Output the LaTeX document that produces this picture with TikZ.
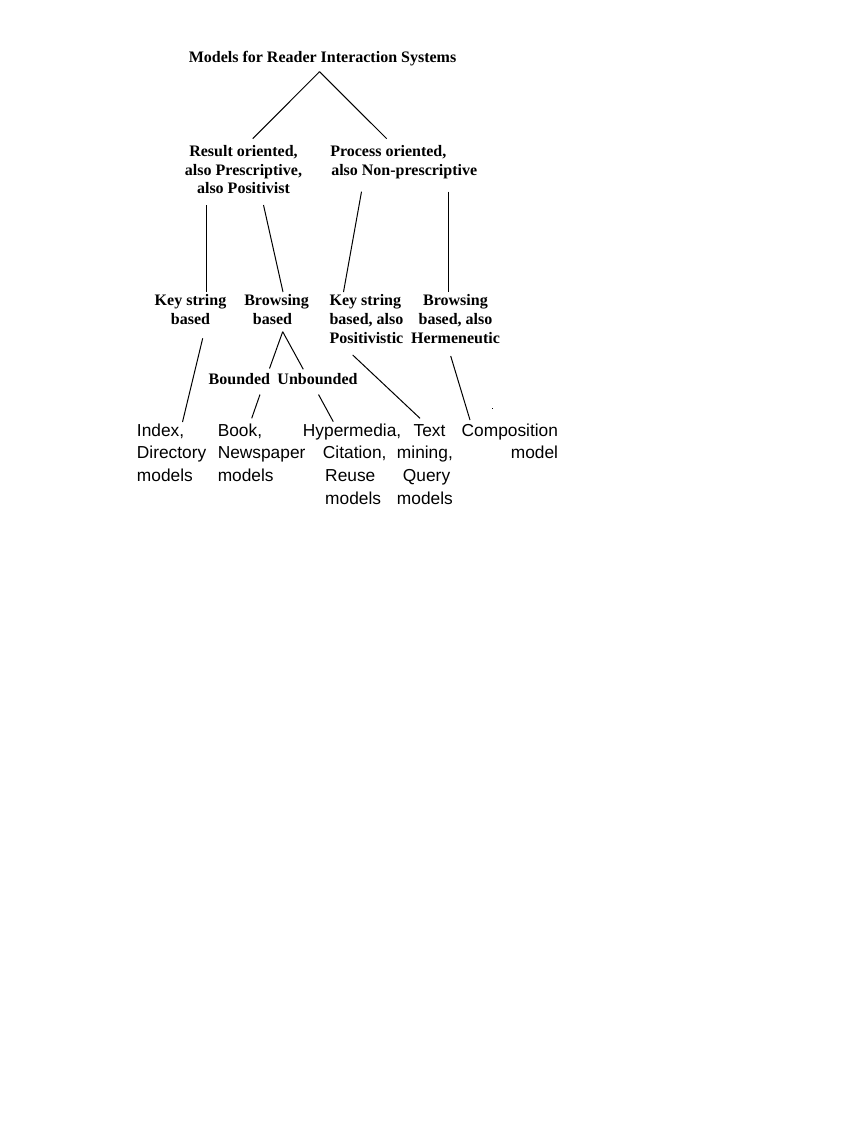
\documentclass[tikz,border=0pt]{standalone}
\usepackage{fontspec}
\setmainfont{Liberation Serif}
\newfontfamily\arialfont{Liberation Sans}
\usetikzlibrary{calc}
\begin{document}
\begin{tikzpicture}[x=0.75pt,y=-0.75pt,
  serif/.style={inner sep=0pt, font=\fontsize{12pt}{14pt}\selectfont\bfseries},
  sans/.style={inner sep=0pt, font=\arialfont\fontsize{13pt}{17pt}\selectfont},
  conn/.style={draw=black, line width=0.75pt}]
\fill[white] (0,0) rectangle (858,1135);
\useasboundingbox (0,0) rectangle (858,1135);
% level 1
\node[serif, anchor=base] (title) at (322.5,62.7) {Models for Reader Interaction Systems};
% level 2
\node[serif, anchor=base] (result) at (243.5,156.5)
  {\begin{tabular}[t]{@{}c@{}}Result oriented,\\ also Prescriptive,\\ also Positivist\end{tabular}};
\node[serif, anchor=base west] (process) at (330,156.5)
  {\begin{tabular}[t]{@{}l@{}}Process oriented,\\ \hspace{0.75pt}also Non-prescriptive\end{tabular}};
% level 3
\node[serif, anchor=base] (ks1) at (190.5,305.7)
  {\begin{tabular}[t]{@{}c@{}}Key string\\ based\end{tabular}};
\node[serif, anchor=base west] (br1) at (244,305.7)
  {\begin{tabular}[t]{@{}l@{}}Browsing\\ \hspace{6.5pt}based\end{tabular}};
\node[serif, anchor=base west] (ks2) at (329.3,305.7)
  {\begin{tabular}[t]{@{}l@{}}Key string\\ based, also\\ Positivistic\end{tabular}};
\node[serif, anchor=base] (br2) at (455.5,305.7)
  {\begin{tabular}[t]{@{}c@{}}Browsing\\ based, also\\ Hermeneutic\end{tabular}};
\node[serif, anchor=base] (bounded) at (239.4,384.5) {Bounded};
\node[serif, anchor=base] (unbounded) at (317.5,384.5) {Unbounded};
% level 4
\node[sans, anchor=base west] (index) at (136.7,436)
  {\begin{tabular}[t]{@{}l@{}}Index,\\ Directory\\ models\end{tabular}};
\node[sans, anchor=base west] (book) at (217.5,436)
  {\begin{tabular}[t]{@{}l@{}}Book,\\ Newspaper\\ models\end{tabular}};
\node[sans, anchor=base west] (hyper) at (302.7,436)
  {\begin{tabular}[t]{@{}l@{}}Hypermedia,\\ \hspace{15pt}Citation,\\ \hspace{16.7pt}Reuse\\ \hspace{16.7pt}models\end{tabular}};
\node[sans, anchor=base west] (textm) at (396.7,436)
  {\begin{tabular}[t]{@{}l@{}}\hspace{12.5pt}Text\\ mining,\\ \hspace{4.5pt}Query\\ models\end{tabular}};
\node[sans, anchor=base east] (comp) at (558.3,436)
  {\begin{tabular}[t]{@{}r@{}}Composition\\ model\end{tabular}};
% connectors
\draw[conn] ($(title.base)+(-3,9)$) -- ($(result.base)+(9.2,-17.8)$);
\draw[conn] ($(title.base)+(-3,9)$) -- ($(process.base west)+(56.7,-17.8)$);
\draw[conn] ($(result.base)+(-37,48.5)$) -- ($(ks1.base)+(16,-13.7)$);
\draw[conn] ($(result.base)+(20,48.5)$) -- ($(br1.base west)+(39,-13.7)$);
\draw[conn] ($(process.base west)+(31.5,35.2)$) -- ($(ks2.base west)+(14.2,-13.7)$);
\draw[conn] ($(process.base west)+(118,35.2)$) -- ($(br2.base)+(-7.5,-13.7)$);
\draw[conn] ($(ks1.base)+(12.2,32.6)$) -- ($(index.base west)+(45.8,-14)$);
\draw[conn] ($(br1.base west)+(38.7,26)$) -- ($(bounded.base)+(30.1,-16)$);
\draw[conn] ($(br1.base west)+(38.7,26)$) -- ($(unbounded.base)+(-14.2,-15.2)$);
\draw[conn] ($(bounded.base)+(20.6,10)$) -- ($(book.base west)+(34.2,-17.7)$);
\draw[conn] ($(unbounded.base)+(1,10)$) -- ($(hyper.base west)+(30.6,-14.3)$);
\draw[conn] ($(ks2.base west)+(23.4,49.3)$) -- ($(textm.base west)+(23.3,-17.7)$);
\draw[conn] ($(br2.base)+(-4.8,50.3)$) -- ($(comp.base east)+(-88.3,-16)$);
% stray dot
\fill[black] (492,408) rectangle (493.2,409.2);
\end{tikzpicture}
\end{document}
